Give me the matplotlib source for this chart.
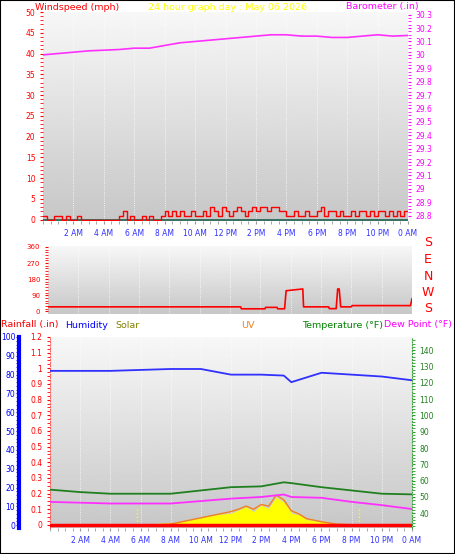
import numpy as np
import matplotlib
matplotlib.use('Agg')
import matplotlib.pyplot as plt

# ---- data ----
# wind speed every 15 minutes, mph
WIND = [1, 0, 0, 1, 1, 0, 1, 0, 0, 1, 0, 0, 0, 0, 0, 0,
        0, 0, 0, 0, 1, 2, 0, 1, 0, 0, 1, 0, 1, 0, 0, 1,
        2, 1, 2, 1, 2, 1, 1, 2, 1, 1, 2, 1, 3, 2, 1, 3,
        2, 1, 2, 3, 2, 1, 2, 3, 2, 3, 3, 2, 3, 3, 2, 2,
        1, 1, 2, 1, 1, 2, 1, 1, 2, 3, 1, 2, 2, 1, 2, 1,
        1, 2, 1, 2, 2, 1, 2, 1, 2, 2, 1, 2, 1, 2, 1, 2, 2]
BARO_H = [0, 1, 2, 3, 4, 5, 6, 7, 8, 9, 10, 11, 12, 13, 14, 15, 16, 17, 18, 19, 20, 21, 22, 23, 24]
BARO = [30.00, 30.01, 30.02, 30.03, 30.035, 30.04, 30.05, 30.05, 30.07, 30.09, 30.10, 30.11, 30.12,
        30.13, 30.14, 30.15, 30.15, 30.14, 30.14, 30.13, 30.13, 30.14, 30.15, 30.14, 30.145]

DIR_H = [0, 12.7, 12.75, 14.3, 14.35, 15.1, 15.15, 15.6, 15.7, 16.8, 16.85, 18.5, 18.55, 19.0, 19.1, 19.2,
         19.3, 20.0, 20.05, 23.9, 24.0]
DIR = [25, 25, 14, 14, 22, 22, 14, 14, 115, 125, 25, 25, 15, 15, 125, 125, 25, 25, 32, 32, 70]

HOURS = [0, 2, 4, 6, 8, 10, 12, 14, 15.5, 16, 18, 20, 22, 24]
TEMP = [54.5, 53, 52, 52, 52, 54, 56, 56.5, 59, 58.5, 56, 54, 52, 51.6]
DEW = [47, 46.5, 46, 46, 46, 47.5, 49, 50, 51.5, 50, 49.5, 47, 45, 42.6]
HUM = [82, 82, 82, 82.5, 83, 83, 80, 80, 79.5, 76, 81, 80, 79, 77]

SOLAR_H = [7, 8, 9, 10, 11, 12, 12.5, 13, 13.5, 14, 14.5, 15, 15.5, 16, 16.5, 17, 18, 19, 20]
SOLAR = [0.005, 0.01, 0.02, 0.04, 0.06, 0.07, 0.09, 0.11, 0.08, 0.12, 0.10, 0.17, 0.14, 0.07, 0.06, 0.03,
         0.015, 0.005, 0]
UV = [0, 0.005, 0.025, 0.045, 0.065, 0.085, 0.10, 0.12, 0.10, 0.13, 0.12, 0.19, 0.16, 0.09, 0.07, 0.04,
      0.02, 0.005, 0]
SUN_H = [5.8, 20.5]

TICK_H = [2, 4, 6, 8, 10, 12, 14, 16, 18, 20, 22, 24]
TICK_L = ['2 AM', '4 AM', '6 AM', '8 AM', '10 AM', '12 PM', '2 PM', '4 PM', '6 PM', '8 PM', '10 PM', '0 AM']
DIR_L = ['S', 'W', 'N', 'E', 'S']

W, H = 455, 554
fig = plt.figure(figsize=(W / 100, H / 100), dpi=100)
fig.patch.set_facecolor('white')


def rect(x0, y0, x1, y1):
    return [x0 / W, 1 - y1 / H, (x1 - x0) / W, (y1 - y0) / H]


def shade(ax):
    grad = np.linspace(0.97, 0.78, 100).reshape(-1, 1)
    ax.imshow(grad, cmap='gray', vmin=0, vmax=1, aspect='auto', extent=(0, 1, 0, 1),
              transform=ax.transAxes, zorder=0)
    for s in ax.spines.values():
        s.set_visible(False)
    ax.tick_params(labelsize=5.5, length=2)


def time_axis(ax, labels=True):
    ax.set_xlim(0, 24)
    ax.set_xticks(TICK_H)
    ax.set_xticks(np.arange(0, 24.1, 0.5), minor=True)
    if labels:
        ax.set_xticklabels(TICK_L, color='#3030ff', fontsize=5.5)
    else:
        ax.set_xticklabels([])
    ax.tick_params(axis='x', which='both', length=2, color='#999999')
    ax.grid(axis='x', color='white', linestyle=':', linewidth=0.6)


# ---- top: wind speed + barometer ----
ax1 = fig.add_axes(rect(43, 12, 408, 221))
shade(ax1)
wt = np.arange(len(WIND)) * 0.25
ax1.axhline(0, color='#206050', linewidth=1.2, zorder=2)
ax1.step(wt, WIND, where='post', color='red', linewidth=1.0, zorder=3)
ax1.set_ylim(-0.3, 50)
ax1.set_yticks(range(0, 51, 5))
ax1.set_yticks(range(0, 51, 1), minor=True)
ax1.tick_params(axis='y', which='both', colors='red', labelcolor='red', length=2, labelsize=5.5)
time_axis(ax1)
ax1b = ax1.twinx()
ax1b.plot(BARO_H, BARO, color='#ff30ff', linewidth=1.2)
ax1b.set_ylim(28.76, 30.32)
ax1b.set_yticks(np.arange(28.8, 30.31, 0.1))
ax1b.set_yticklabels(['%g' % round(v, 1) for v in np.arange(28.8, 30.31, 0.1)])
ax1b.set_yticks(np.arange(28.8, 30.31, 0.025), minor=True)
ax1b.tick_params(axis='y', which='both', colors='#ff00ff', labelcolor='#ff00ff', length=2, labelsize=5.5)
for s in ax1b.spines.values():
    s.set_visible(False)
ax1b.set_xlim(0, 24)

fig.text(35 / W, 1 - 7 / H, 'Windspeed (mph)', color='red', fontsize=6.8, va='center')
fig.text(228 / W, 1 - 7 / H, '24 hour graph day : May 06 2026', color='yellow', fontsize=6.8,
         va='center', ha='center')
fig.text(419 / W, 1 - 7 / H, 'Barometer (.in)', color='#ff00ff', fontsize=6.8, va='center', ha='right')

# ---- middle: wind direction ----
ax2 = fig.add_axes(rect(48, 246, 412, 314))
shade(ax2)
ax2.plot(DIR_H, DIR, color='red', linewidth=1.2, zorder=3)
ax2.set_ylim(-15, 365)
ax2.set_yticks([0, 90, 180, 270, 360])
ax2.set_yticks(range(0, 361, 15), minor=True)
ax2.tick_params(axis='y', which='both', colors='red', labelcolor='red', length=2, labelsize=5)
time_axis(ax2, labels=False)
ax2.tick_params(axis='x', which='both', length=0)
for i, d in enumerate(DIR_L):
    fig.text(428 / W, 1 - (309 - i * 16.5) / H, d, color='red', fontsize=9, ha='center', va='center')

# ---- bottom: rain, humidity, solar, uv, temperature, dew point ----
ax3 = fig.add_axes(rect(50, 337, 412, 528))
shade(ax3)
ax3.set_ylim(-0.02, 1.2)
ax3.fill_between(SOLAR_H, SOLAR, color='yellow', zorder=2)
ax3.plot(SOLAR_H, UV, color='#f08020', linewidth=1.0, zorder=3)
ax3.vlines(SUN_H, 0, 0.11, color='yellow', linestyle=':', linewidth=1.0, zorder=3)
ax3.axhline(0, color='red', linewidth=2.5, zorder=4)
ax3.set_yticks(np.arange(0, 1.21, 0.1))
ax3.set_yticklabels(['%g' % round(v, 1) for v in np.arange(0, 1.21, 0.1)])
ax3.set_yticks(np.arange(0, 1.21, 0.025), minor=True)
ax3.tick_params(axis='y', which='both', colors='red', labelcolor='red', length=2, labelsize=5.5)
time_axis(ax3)
ax3.spines['left'].set_visible(True)
ax3.spines['left'].set_color('#ff6060')
ax3.spines['left'].set_linestyle(':')

ax3h = ax3.twinx()
ax3h.plot(HOURS, HUM, color='#3030ff', linewidth=1.3)
ax3h.set_ylim(-1.5, 100)
ax3h.yaxis.set_ticks_position('left')
ax3h.spines['left'].set_position(('outward', 22))
ax3h.spines['left'].set_color('blue')
ax3h.spines['left'].set_linewidth(3)
ax3h.spines['right'].set_visible(False)
ax3h.spines['top'].set_visible(False)
ax3h.spines['bottom'].set_visible(False)
ax3h.set_yticks(range(0, 101, 10))
ax3h.set_yticks(range(0, 101, 2), minor=True)
ax3h.tick_params(axis='y', which='both', colors='blue', labelcolor='blue', length=2, labelsize=5.5, pad=1)

ax3t = ax3.twinx()
ax3t.plot(HOURS, TEMP, color='#208020', linewidth=1.3)
ax3t.plot(HOURS, DEW, color='#ff30ff', linewidth=1.3)
ax3t.set_ylim(31, 148)
ax3t.set_yticks(range(40, 141, 10))
ax3t.set_yticks(range(32, 148, 2), minor=True)
ax3t.tick_params(axis='y', which='both', colors='#20a020', labelcolor='#208020', length=2, labelsize=5.5)
for k in ['left', 'top', 'bottom']:
    ax3t.spines[k].set_visible(False)
ax3t.spines['right'].set_color('#40a040')
ax3t.spines['right'].set_linestyle(':')
ax3t.set_xlim(0, 24)

legend_y = 1 - 325 / H
for x, txt, col, ha in [(1, 'Rainfall (.in)', 'red', 'left'), (65, 'Humidity', 'blue', 'left'),
                        (115, 'Solar', '#808000', 'left'), (248, 'UV', '#f08020', 'center'),
                        (383, 'Temperature (\u00b0F)', 'green', 'right'),
                        (452, 'Dew Point (\u00b0F)', '#ff00ff', 'right')]:
    fig.text(x / W, legend_y, txt, color=col, fontsize=6.8, ha=ha, va='center')

# outer frame
fig.add_artist(plt.Rectangle((0, 0), 1, 1, transform=fig.transFigure, fill=False,
                             edgecolor='black', linewidth=1.5))

fig.savefig('out.png', dpi=100)
